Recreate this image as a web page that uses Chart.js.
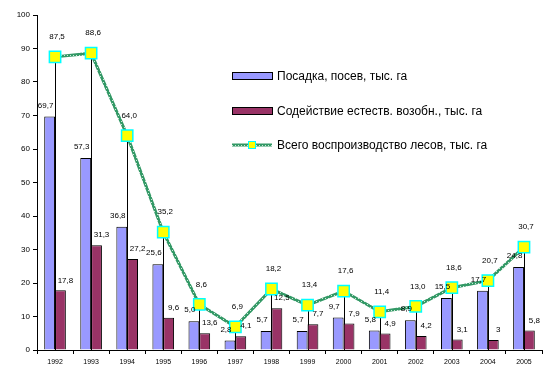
<!DOCTYPE html>
<html>
<head>
<meta charset="utf-8">
<script src="https://cdn.jsdelivr.net/npm/chart.js@4.4.1/dist/chart.umd.min.js"></script>
<style>
  html, body { margin: 0; padding: 0; background: #fff; }
  #wrap { width: 553px; height: 385px; }
</style>
</head>
<body>
<div id="wrap"><canvas id="myChart"></canvas></div>
<script>
// data
var years = ['1992', '1993', '1994', '1995', '1996', '1997', '1998', '1999', '2000', '2001', '2002', '2003', '2004', '2005'];
var planting = [69.7, 57.3, 36.8, 25.6, 8.6, 2.8, 5.7, 5.7, 9.7, 5.8, 8.9, 15.5, 17.7, 24.8];
var assist = [17.8, 31.3, 27.2, 9.6, 5.0, 4.1, 12.5, 7.7, 7.9, 4.9, 4.2, 3.1, 3.0, 5.8];
var total = [87.5, 88.6, 64.0, 35.2, 13.6, 6.9, 18.2, 13.4, 17.6, 11.4, 13.0, 18.6, 20.7, 30.7];
// label texts as they are printed (1996 ones are shuffled in the original)
var plantingText = ['69,7', '57,3', '36,8', '25,6', '5,0', '2,8', '5,7', '5,7', '9,7', '5,8', '8,9', '15,5', '17,7', '24,8'];
var assistText = ['17,8', '31,3', '27,2', '9,6', '13,6', '4,1', '12,5', '7,7', '7,9', '4,9', '4,2', '3,1', '3', '5,8'];
var totalText = ['87,5', '88,6', '64,0', '35,2', '8,6', '6,9', '18,2', '13,4', '17,6', '11,4', '13,0', '18,6', '20,7', '30,7'];
var seriesNames = ['Посадка, посев, тыс. га', 'Содействие естеств. возобн., тыс. га', 'Всего воспроизводство лесов, тыс. га'];
var yMin = 0, yMax = 100, yStep = 10;

var FONT = 'Arial, "Liberation Sans", sans-serif';
var GREEN = '#339966';

var ctx = document.getElementById('myChart').getContext('2d');

function chainPattern() {
  var c = document.createElement('canvas');
  c.width = 3; c.height = 3;
  var g = c.getContext('2d');
  g.fillStyle = GREEN;
  g.fillRect(0, 0, 3, 3);
  g.fillStyle = '#cfe9da';
  g.fillRect(1, 1, 1, 1);
  return ctx.createPattern(c, 'repeat');
}
var chain = chainPattern();

// black drop lines from each total point down to the axis
var dropLines = {
  id: 'dropLines',
  beforeDatasetsDraw: function(chart) {
    var c = chart.ctx;
    var yScale = chart.scales.y;
    c.save();
    c.strokeStyle = '#000';
    c.lineWidth = 1;
    chart.getDatasetMeta(2).data.forEach(function(p) {
      var x = Math.round(p.x) + 0.5;
      c.beginPath();
      c.moveTo(x, p.y);
      c.lineTo(x, yScale.getPixelForValue(0));
      c.stroke();
    });
    c.restore();
  }
};

var valueLabels = {
  id: 'valueLabels',
  afterDatasetsDraw: function(chart) {
    var c = chart.ctx;
    c.save();
    c.font = '8px ' + FONT;
    c.fillStyle = '#000';
    c.textAlign = 'center';
    c.textBaseline = 'middle';
    [[0, plantingText, -4, -11], [1, assistText, 5, -10], [2, totalText, 2, -20]].forEach(function(s) {
      chart.getDatasetMeta(s[0]).data.forEach(function(el, j) {
        c.fillText(s[1][j], el.x + s[2], el.y + s[3]);
      });
    });
    c.restore();
  }
};

var sideLegend = {
  id: 'sideLegend',
  afterDraw: function(chart) {
    var c = chart.ctx;
    var x0 = 232, rows = [76, 111, 145];
    c.save();
    c.font = '12px ' + FONT;
    c.textBaseline = 'middle';
    c.fillStyle = '#000';
    // bars
    c.lineWidth = 1;
    c.strokeStyle = '#000';
    c.fillStyle = '#9999ff';
    c.fillRect(x0, rows[0] - 3, 40, 6);
    c.strokeRect(x0 + 0.5, rows[0] - 3.5, 40, 7);
    c.fillStyle = '#993366';
    c.fillRect(x0, rows[1] - 3, 40, 6);
    c.strokeRect(x0 + 0.5, rows[1] - 3.5, 40, 7);
    // line with marker
    c.strokeStyle = chain;
    c.lineWidth = 3;
    c.beginPath();
    c.moveTo(x0, rows[2]);
    c.lineTo(x0 + 40, rows[2]);
    c.stroke();
    c.fillStyle = '#ffff00';
    c.strokeStyle = '#00ffff';
    c.lineWidth = 1;
    c.fillRect(x0 + 17, rows[2] - 3, 7, 7);
    c.strokeRect(x0 + 16.5, rows[2] - 3.5, 7, 7);
    c.fillStyle = '#000';
    for (var i = 0; i < 3; i++) {
      c.fillText(seriesNames[i], x0 + 45, rows[i] + 1);
    }
    c.restore();
  }
};

var myChart = new Chart(ctx, {
  data: {
    labels: years,
    datasets: [{
      type: 'bar',
      label: seriesNames[0],
      data: planting,
      backgroundColor: '#9999ff',
      borderColor: '#000',
      borderWidth: 1,
      order: 1
    }, {
      type: 'bar',
      label: seriesNames[1],
      data: assist,
      backgroundColor: '#993366',
      borderColor: '#000',
      borderWidth: 1,
      order: 1
    }, {
      type: 'line',
      label: seriesNames[2],
      data: total,
      borderColor: chain,
      borderWidth: 3,
      tension: 0,
      pointStyle: 'rect',
      pointRadius: 8,
      pointBackgroundColor: '#ffff00',
      pointBorderColor: '#00ffff',
      pointBorderWidth: 1.5,
      order: 0
    }]
  },
  options: {
    responsive: true,
    maintainAspectRatio: false,
    animation: false,
    layout: { padding: { left: 0, right: 11, top: 15, bottom: 0 } },
    plugins: {
      legend: { display: false },
      tooltip: { enabled: false }
    },
    datasets: {
      bar: { categoryPercentage: 0.6, barPercentage: 1 }
    },
    scales: {
      x: {
        offset: true,
        grid: { offset: true, drawOnChartArea: false, drawTicks: true, tickLength: 4, color: '#000' },
        border: { display: true, color: '#000', width: 1 },
        ticks: { color: '#000', font: { family: FONT, size: 7 }, padding: 4, maxRotation: 0, autoSkip: false },
        afterFit: function(scale) { scale.height = 35; }
      },
      y: {
        min: yMin,
        max: yMax,
        grid: { drawOnChartArea: false, drawTicks: true, tickLength: 4, color: '#000' },
        border: { display: true, color: '#000', width: 1 },
        ticks: { stepSize: yStep, color: '#000', font: { family: FONT, size: 8 }, padding: 3 },
        afterFit: function(scale) { scale.width = 37; }
      }
    }
  },
  plugins: [dropLines, valueLabels, sideLegend]
});
</script>
</body>
</html>
